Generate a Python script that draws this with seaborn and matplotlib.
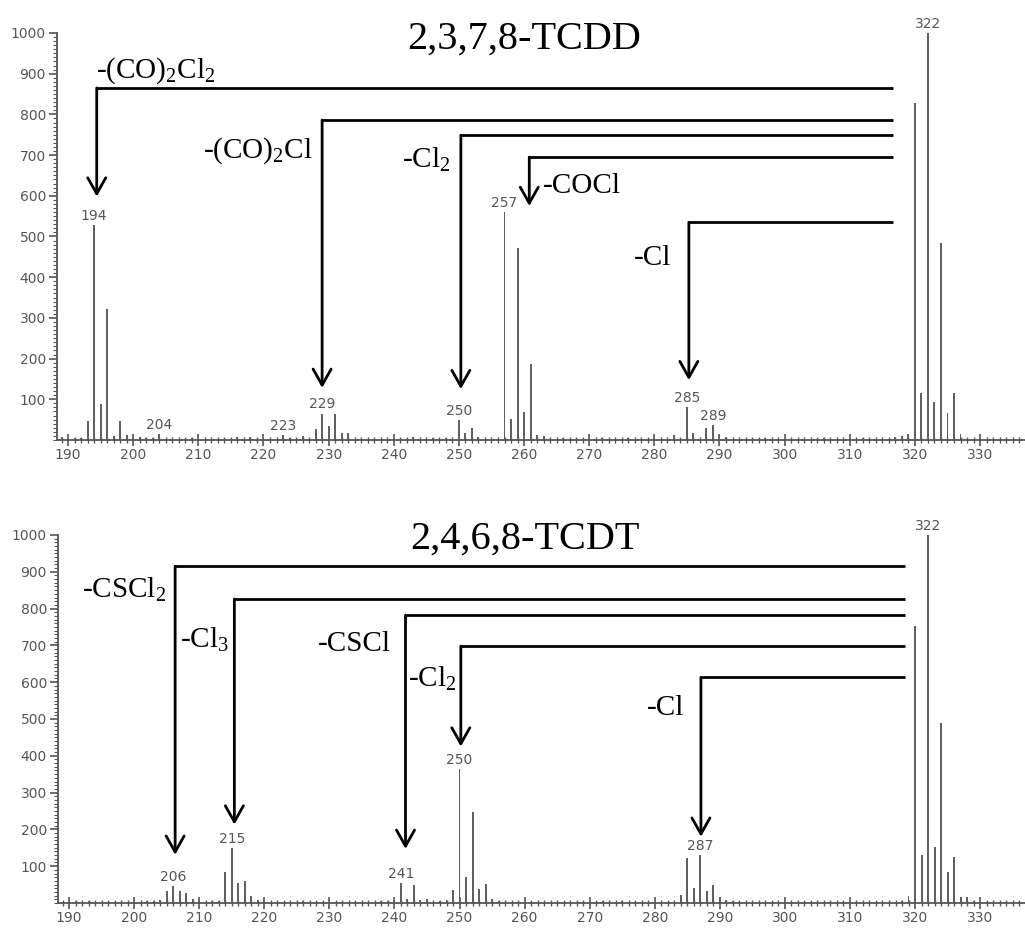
import numpy as np
import pandas as pd
import matplotlib
matplotlib.use("Agg")
import matplotlib.pyplot as plt
from matplotlib.ticker import MultipleLocator
import seaborn as sns

# spectrum 1: 2,3,7,8-TCDD
tcdd_mz = [189, 191, 192, 193, 194, 195, 196, 197, 198, 199, 200, 201, 202, 203, 204,
           209, 216, 218, 223, 224, 226, 228, 229, 230, 231, 232, 233,
           243, 246, 248, 250, 251, 252, 253, 257, 258, 259, 260, 261, 262, 263,
           266, 272, 276, 280, 283, 285, 286, 288, 289, 290, 291, 297, 306, 312,
           317, 318, 319, 320, 321, 322, 323, 324, 325, 326, 327]
tcdd_int = [8, 5, 5, 47, 527, 88, 323, 10, 47, 12, 4, 8, 6, 6, 15,
            5, 8, 8, 12, 5, 10, 28, 65, 35, 65, 18, 18,
            8, 6, 6, 49, 18, 30, 8, 560, 52, 472, 69, 187, 12, 10,
            6, 6, 5, 5, 12, 81, 18, 29, 37, 12, 8, 5, 5, 5,
            8, 10, 15, 828, 116, 1000, 93, 483, 66, 116, 15]
tcdd_labels = [194, 204, 223, 229, 250, 257, 285, 289, 322]

# spectrum 2: 2,4,6,8-TCDT
tcdt_mz = [191, 193, 200, 201, 202, 203, 204, 205, 206, 207, 208, 209, 210, 212, 213,
           214, 215, 216, 217, 218, 219, 220, 226, 238, 239, 240, 241, 242, 243, 244,
           245, 247, 248, 249, 250, 251, 252, 253, 254, 255, 256, 272, 275,
           284, 285, 286, 287, 288, 289, 290, 291, 292,
           318, 319, 320, 321, 322, 323, 324, 325, 326, 327, 328, 329]
tcdt_int = [5, 5, 4, 4, 5, 6, 8, 32, 46, 32, 27, 10, 8, 5, 6,
            84, 149, 54, 60, 19, 8, 5, 5, 5, 6, 8, 54, 10, 49, 8,
            10, 6, 8, 35, 364, 70, 248, 38, 51, 10, 5, 5, 5,
            22, 122, 40, 130, 32, 48, 15, 8, 5,
            5, 19, 752, 130, 1000, 151, 490, 84, 125, 15, 15, 5]
tcdt_labels = [206, 215, 241, 250, 287, 322]

# neutral losses: label, m/z of arrow, level of bracket, arrow tip, label x, label y, alignment
tcdd_loss = ["-(CO)$_\\mathregular{2}$Cl$_\\mathregular{2}$", "-(CO)$_\\mathregular{2}$Cl",
             "-Cl$_\\mathregular{2}$", "-COCl", "-Cl"]
tcdd_loss_x = [194.4, 229.0, 250.3, 260.8, 285.3]
tcdd_loss_y = [865, 786, 749, 695, 535]
tcdd_loss_tip = [598, 128, 125, 575, 147]
tcdd_text_x = [194.3, 227.6, 248.7, 262.9, 282.6]
tcdd_text_y = [890, 693, 671, 607, 430]
tcdd_text_ha = ["left", "right", "right", "left", "right"]

tcdt_loss = ["-CSCl$_\\mathregular{2}$", "-Cl$_\\mathregular{3}$", "-CSCl",
             "-Cl$_\\mathregular{2}$", "-Cl"]
tcdt_loss_x = [206.3, 215.4, 241.7, 250.2, 287.1]
tcdt_loss_y = [915, 826, 782, 698, 613]
tcdt_loss_tip = [131, 213, 147, 425, 180]
tcdt_text_x = [204.9, 214.6, 239.4, 249.5, 284.5]
tcdt_text_y = [831, 695, 684, 588, 512]
tcdt_text_ha = ["right", "right", "right", "right", "right"]

sns.set_style("ticks")
plt.rcParams["font.family"] = ["DejaVu Sans"]
plt.rcParams["mathtext.fontset"] = "custom"
plt.rcParams["mathtext.rm"] = "Liberation Serif"

GREY = "#555555"
SERIF = ["Liberation Serif", "DejaVu Serif"]

fig = plt.figure(figsize=(10.25, 9.31), dpi=100)
ax1 = fig.add_axes([0.0556, 0.5274, 0.9444, 0.4372])
ax2 = fig.add_axes([0.0566, 0.0301, 0.9434, 0.3953])


def draw_panel(ax, mz, inten, labels, title, loss, lx, ly, ltip, tx, ty, tha, x_right):
    df = pd.DataFrame({"mz": mz, "intensity": inten})
    sns.histplot(data=df, x="mz", weights="intensity", discrete=True, shrink=0.3,
                 color="#606060", alpha=1, linewidth=0, edgecolor="none", ax=ax)
    ax.set_xlim(188.3, 336.9)
    ax.set_ylim(0, 1000)
    ax.set_xlabel("")
    ax.set_ylabel("")
    ax.xaxis.set_major_locator(MultipleLocator(10))
    ax.xaxis.set_minor_locator(MultipleLocator(1))
    ax.yaxis.set_major_locator(MultipleLocator(100))
    ax.yaxis.set_minor_locator(MultipleLocator(10))
    ax.set_yticks(np.arange(100, 1001, 100))
    ax.tick_params(axis="x", which="major", direction="inout", length=9, width=1.2,
                   colors=GREY, labelsize=10, pad=1)
    ax.tick_params(axis="x", which="minor", direction="inout", length=5, width=1,
                   colors=GREY)
    ax.tick_params(axis="y", which="major", direction="out", length=6, width=1.2,
                   colors=GREY, labelsize=10, pad=2)
    ax.tick_params(axis="y", which="minor", direction="out", length=3, width=0.8,
                   colors=GREY)
    sns.despine(ax=ax, top=True, right=True)
    for s in ["left", "bottom"]:
        ax.spines[s].set_color(GREY)
        ax.spines[s].set_linewidth(1.3)
    ax.patch.set_alpha(0)

    lookup = dict(zip(mz, inten))
    for m in labels:
        ax.annotate(str(m), xy=(m, lookup[m]), xytext=(0, 1.5), textcoords="offset points",
                    ha="center", va="bottom", fontsize=10, color=GREY)

    ax.text(260.0, 962, title, ha="center", va="baseline", fontsize=29,
            family=SERIF, color="black", clip_on=False)

    for name, x, y, tip, px, py, ha in zip(loss, lx, ly, ltip, tx, ty, tha):
        ax.plot([x_right, x], [y, y], color="black", lw=2, solid_capstyle="butt")
        ax.annotate("", xy=(x, tip), xytext=(x, y),
                    arrowprops=dict(arrowstyle="->,head_length=1.15,head_width=0.65",
                                    color="black", lw=2, shrinkA=0, shrinkB=0,
                                    mutation_scale=10))
        ax.text(px, py, name, ha=ha, va="baseline", fontsize=21, family=SERIF,
                color="black")


draw_panel(ax1, tcdd_mz, tcdd_int, tcdd_labels, "2,3,7,8-TCDD", tcdd_loss,
           tcdd_loss_x, tcdd_loss_y, tcdd_loss_tip, tcdd_text_x, tcdd_text_y,
           tcdd_text_ha, 316.7)
draw_panel(ax2, tcdt_mz, tcdt_int, tcdt_labels, "2,4,6,8-TCDT", tcdt_loss,
           tcdt_loss_x, tcdt_loss_y, tcdt_loss_tip, tcdt_text_x, tcdt_text_y,
           tcdt_text_ha, 318.5)

fig.savefig("out.png", dpi=100)
